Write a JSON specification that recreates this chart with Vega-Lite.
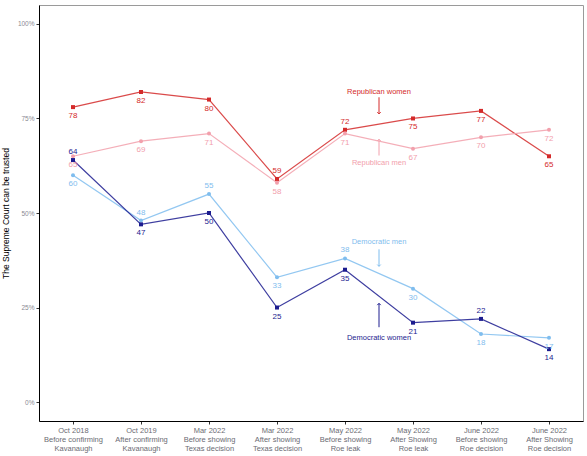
{
  "$schema": "https://vega.github.io/schema/vega-lite/v6.json",
  "background": "white",
  "autosize": {"type": "none"},
  "padding": {"left": 39, "top": 5, "right": 4, "bottom": 35},
  "width": 544,
  "height": 416,
  "config": {
    "font": "Liberation Sans",
    "view": {"stroke": "#9a9a9a", "strokeWidth": 1}
  },
  "datasets": {
    "trust": [
      {"series": "Republican women", "wave": 1, "pct": 78},
      {"series": "Republican women", "wave": 2, "pct": 82},
      {"series": "Republican women", "wave": 3, "pct": 80},
      {"series": "Republican women", "wave": 4, "pct": 59},
      {"series": "Republican women", "wave": 5, "pct": 72},
      {"series": "Republican women", "wave": 6, "pct": 75},
      {"series": "Republican women", "wave": 7, "pct": 77},
      {"series": "Republican women", "wave": 8, "pct": 65},
      {"series": "Republican men", "wave": 1, "pct": 65},
      {"series": "Republican men", "wave": 2, "pct": 69},
      {"series": "Republican men", "wave": 3, "pct": 71},
      {"series": "Republican men", "wave": 4, "pct": 58},
      {"series": "Republican men", "wave": 5, "pct": 71},
      {"series": "Republican men", "wave": 6, "pct": 67},
      {"series": "Republican men", "wave": 7, "pct": 70},
      {"series": "Republican men", "wave": 8, "pct": 72},
      {"series": "Democratic men", "wave": 1, "pct": 60},
      {"series": "Democratic men", "wave": 2, "pct": 48},
      {"series": "Democratic men", "wave": 3, "pct": 55},
      {"series": "Democratic men", "wave": 4, "pct": 33},
      {"series": "Democratic men", "wave": 5, "pct": 38},
      {"series": "Democratic men", "wave": 6, "pct": 30},
      {"series": "Democratic men", "wave": 7, "pct": 18},
      {"series": "Democratic men", "wave": 8, "pct": 17},
      {"series": "Democratic women", "wave": 1, "pct": 64},
      {"series": "Democratic women", "wave": 2, "pct": 47},
      {"series": "Democratic women", "wave": 3, "pct": 50},
      {"series": "Democratic women", "wave": 4, "pct": 25},
      {"series": "Democratic women", "wave": 5, "pct": 35},
      {"series": "Democratic women", "wave": 6, "pct": 21},
      {"series": "Democratic women", "wave": 7, "pct": 22},
      {"series": "Democratic women", "wave": 8, "pct": 14}
    ],
    "notes": [
      {"series": "Republican women", "x": 5.5, "ty": 82.1, "a1": 80.6, "a2": 76.2},
      {"series": "Republican men", "x": 5.5, "ty": 63.1, "a1": 65.2, "a2": 69.5},
      {"series": "Democratic men", "x": 5.5, "ty": 42.2, "a1": 40.4, "a2": 35.9},
      {"series": "Democratic women", "x": 5.5, "ty": 17.0, "a1": 19.8, "a2": 26.1}
    ]
  },
  "encoding": {
    "x": {
      "field": "wave",
      "type": "quantitative",
      "scale": {"domain": [0.5, 8.5], "nice": false, "zero": false},
      "axis": {
        "title": null,
        "values": [1, 2, 3, 4, 5, 6, 7, 8],
        "grid": false,
        "domainColor": "black",
        "tickColor": "#333",
        "tickSize": 3,
        "labelPadding": 2,
        "labelFontSize": 7.5,
        "labelColor": "#6b6b73",
        "labelLineHeight": 9,
        "labelExpr": "[['Oct 2018','Before confirming','Kavanaugh'],['Oct 2019','After confirming','Kavanaugh'],['Mar 2022','Before showing','Texas decision'],['Mar 2022','After showing','Texas decision'],['May 2022','Before showing','Roe leak'],['May 2022','After Showing','Roe leak'],['June 2022','Before showing','Roe decision'],['June 2022','After Showing','Roe decision']][datum.value - 1]"
      }
    },
    "y": {
      "field": "pct",
      "type": "quantitative",
      "scale": {"domain": [-5, 105], "nice": false, "zero": false},
      "axis": {
        "title": "The Supreme Court can be trusted",
        "titleFontSize": 8.5,
        "titleFontWeight": "normal",
        "titleColor": "black",
        "titlePadding": 7,
        "values": [0, 25, 50, 75, 100],
        "labelExpr": "datum.value + '%'",
        "grid": false,
        "domainColor": "black",
        "tickColor": "#333",
        "tickSize": 3,
        "labelPadding": 2,
        "labelFontSize": 6.5,
        "labelColor": "#8a8a93"
      }
    },
    "color": {
      "field": "series",
      "type": "nominal",
      "legend": null,
      "scale": {
        "domain": ["Republican women", "Republican men", "Democratic men", "Democratic women"],
        "range": ["#d42a2a", "#f2a0ac", "#7fbdee", "#1c1c8f"]
      }
    }
  },
  "layer": [
    {
      "data": {"name": "trust"},
      "mark": {"type": "line", "strokeWidth": 1.2, "opacity": 0.85},
      "encoding": {"detail": {"field": "series"}}
    },
    {
      "data": {"name": "trust"},
      "mark": {"type": "point", "filled": true, "size": 16, "opacity": 1},
      "encoding": {
        "shape": {
          "field": "series",
          "type": "nominal",
          "legend": null,
          "scale": {
            "domain": ["Republican women", "Republican men", "Democratic men", "Democratic women"],
            "range": ["square", "circle", "circle", "square"]
          }
        }
      }
    },
    {
      "data": {"name": "trust"},
      "transform": [
        {"filter": "indexof(['Republican women4','Republican women5','Democratic men2','Democratic men3','Democratic men5','Democratic women1','Democratic women7'], datum.series + datum.wave) < 0"}
      ],
      "mark": {"type": "text", "fontSize": 8, "dy": 9},
      "encoding": {"text": {"field": "pct", "type": "quantitative"}}
    },
    {
      "data": {"name": "trust"},
      "transform": [
        {"filter": "indexof(['Republican women4','Republican women5','Democratic men2','Democratic men3','Democratic men5','Democratic women1','Democratic women7'], datum.series + datum.wave) >= 0"}
      ],
      "mark": {"type": "text", "fontSize": 8, "dy": -8},
      "encoding": {"text": {"field": "pct", "type": "quantitative"}}
    },
    {
      "data": {"name": "notes"},
      "mark": {"type": "text", "fontSize": 7.5},
      "encoding": {
        "x": {"field": "x", "type": "quantitative"},
        "y": {"field": "ty", "type": "quantitative"},
        "text": {"field": "series"}
      }
    },
    {
      "data": {"name": "notes"},
      "mark": {"type": "rule", "strokeWidth": 1},
      "encoding": {
        "x": {"field": "x", "type": "quantitative"},
        "y": {"field": "a1", "type": "quantitative"},
        "y2": {"field": "a2"}
      }
    },
    {
      "data": {"name": "notes"},
      "mark": {"type": "point", "filled": false, "size": 12, "strokeWidth": 1, "opacity": 1},
      "encoding": {
        "x": {"field": "x", "type": "quantitative"},
        "y": {"field": "a2", "type": "quantitative"},
        "shape": {
          "condition": {"test": "datum.a2 < datum.a1", "value": "M-1,-1L0,0L1,-1"},
          "value": "M-1,1L0,0L1,1"
        }
      }
    }
  ]
}
